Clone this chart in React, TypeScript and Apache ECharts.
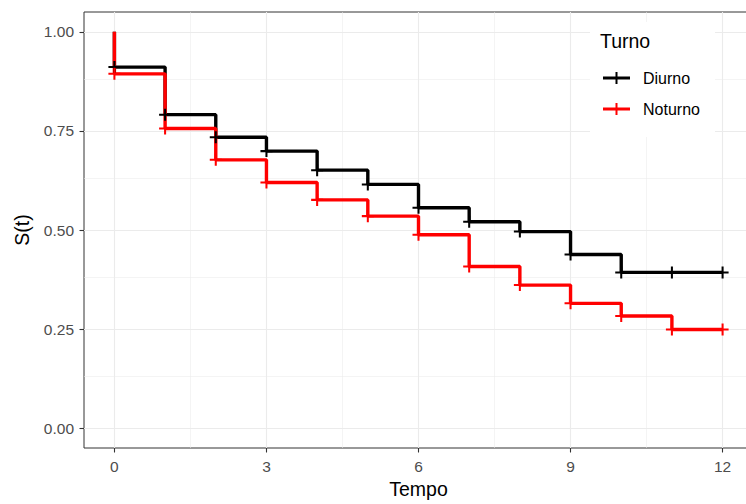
import React, { useEffect, useRef } from "react";
import * as echarts from "echarts";

const times = [0, 1, 2, 3, 4, 5, 6, 7, 8, 9, 10, 11, 12];
const diurno = [0.911, 0.791, 0.734, 0.699, 0.651, 0.615, 0.556, 0.521, 0.496, 0.438, 0.393, 0.393, 0.393];
const noturno = [0.894, 0.756, 0.677, 0.620, 0.576, 0.535, 0.488, 0.408, 0.361, 0.315, 0.283, 0.249, 0.249];
const startValue = 1.0;
const xTicks = [0, 3, 6, 9, 12];
const xMinor = [1.5, 4.5, 7.5, 10.5];
const yTicks = [0, 0.25, 0.5, 0.75, 1.0];
const yMinor = [0.125, 0.375, 0.625, 0.875];
const seriesNames = ["Diurno", "Noturno"];
const colors = ["#000000", "#FF0000"];

const FONT = '"Liberation Sans", Arial, Helvetica, sans-serif';
const PLUS = "path://M0,4.15H4.15V0H5.85V4.15H10V5.85H5.85V10H4.15V5.85H0Z";
const LEGEND_ICON = "path://M0,4.4H12.5V0H14.5V4.4H27V7.6H14.5V12H12.5V7.6H0Z";

function stepData(vals: number[]) {
  return [[0, startValue], ...times.map((t, i) => [t, vals[i]])];
}

export default function App() {
  const ref = useRef<HTMLDivElement>(null);
  useEffect(() => {
    if (!ref.current) return;
    const chart = echarts.init(ref.current, null, { renderer: "svg" });
    const grid = "#EBEBEB";
    const gridLines = {
      silent: true,
      z: 0,
      symbol: "none",
      label: { show: false },
      emphasis: { disabled: true },
      data: [
        ...xTicks.map((v) => ({ xAxis: v, lineStyle: { color: grid, width: 1.1, type: "solid" } })),
        ...xMinor.map((v) => ({ xAxis: v, lineStyle: { color: grid, width: 0.55, type: "solid" } })),
        ...yTicks.map((v) => ({ yAxis: v, lineStyle: { color: grid, width: 1.1, type: "solid" } })),
        ...yMinor.map((v) => ({ yAxis: v, lineStyle: { color: grid, width: 0.55, type: "solid" } })),
      ],
    };
    const all = [diurno, noturno];
    chart.setOption({
      animation: false,
      textStyle: { fontFamily: FONT },
      grid: {
        left: 84,
        top: 12,
        width: 669,
        height: 441,
        show: true,
        borderColor: "#333333",
        borderWidth: 1,
        backgroundColor: "transparent",
        containLabel: false,
      },
      title: {
        text: "Turno",
        left: 600,
        top: 31,
        padding: 0,
        z: 12,
        textStyle: { fontSize: 19.5, fontWeight: "normal", color: "#000000", fontFamily: FONT },
      },
      graphic: [
        {
          type: "rect",
          z: 5,
          shape: { x: 590, y: 22, width: 125, height: 115 },
          style: { fill: "#FFFFFF" },
        },
      ],
      legend: {
        data: seriesNames,
        orient: "vertical",
        left: 603,
        top: 70,
        padding: 0,
        itemWidth: 27,
        itemHeight: 12,
        itemGap: 15,
        icon: LEGEND_ICON,
        selectedMode: false,
        z: 12,
        itemStyle: { borderWidth: 0 },
        textStyle: { fontSize: 16, color: "#000000", fontFamily: FONT, padding: [0, 0, 0, 8] },
      },
      xAxis: {
        type: "value",
        min: -0.6,
        max: 12.6,
        name: "Tempo",
        nameLocation: "middle",
        nameGap: 31,
        nameTextStyle: { fontSize: 19.5, color: "#000000", fontFamily: FONT },
        axisLine: { show: false, onZero: false },
        axisTick: { show: true, customValues: xTicks, length: 4.5, lineStyle: { color: "#333333", width: 1.1 } },
        axisLabel: { customValues: xTicks, margin: 10, fontSize: 15.5, color: "#4D4D4D", fontFamily: FONT },
        splitLine: { show: false },
      },
      yAxis: {
        type: "value",
        min: -0.05,
        max: 1.05,
        name: "S(t)",
        nameLocation: "middle",
        nameRotate: 90,
        nameGap: 52,
        nameTextStyle: { fontSize: 19.5, color: "#000000", fontFamily: FONT },
        axisLine: { show: false, onZero: false },
        axisTick: { show: true, customValues: yTicks, length: 4.5, lineStyle: { color: "#333333", width: 1.1 } },
        axisLabel: {
          customValues: yTicks,
          margin: 10,
          fontSize: 15.5,
          color: "#4D4D4D",
          fontFamily: FONT,
          formatter: (v: number) => v.toFixed(2),
        },
        splitLine: { show: false },
      },
      series: [
        {
          name: "__grid",
          type: "line",
          data: [],
          silent: true,
          markLine: gridLines,
          z: 0,
        },
        ...all.map((vals, i) => ({
          name: seriesNames[i],
          type: "line",
          step: "end",
          data: stepData(vals),
          showSymbol: false,
          symbol: "none",
          lineStyle: { color: colors[i], width: 3.4 },
          itemStyle: { color: colors[i], borderWidth: 0 },
          z: 3,
        })),
        ...all.map((vals, i) => ({
          name: seriesNames[i],
          type: "scatter",
          data: times.map((t, j) => [t, vals[j]]),
          symbol: PLUS,
          symbolSize: 12,
          itemStyle: { color: colors[i], opacity: 1 },
          z: 4,
        })),
      ],
    });
    return () => chart.dispose();
  }, []);
  return (
    <div
      ref={ref}
      style={{ position: "fixed", left: 0, top: 0, width: 760, height: 504, background: "#FFFFFF" }}
    />
  );
}
